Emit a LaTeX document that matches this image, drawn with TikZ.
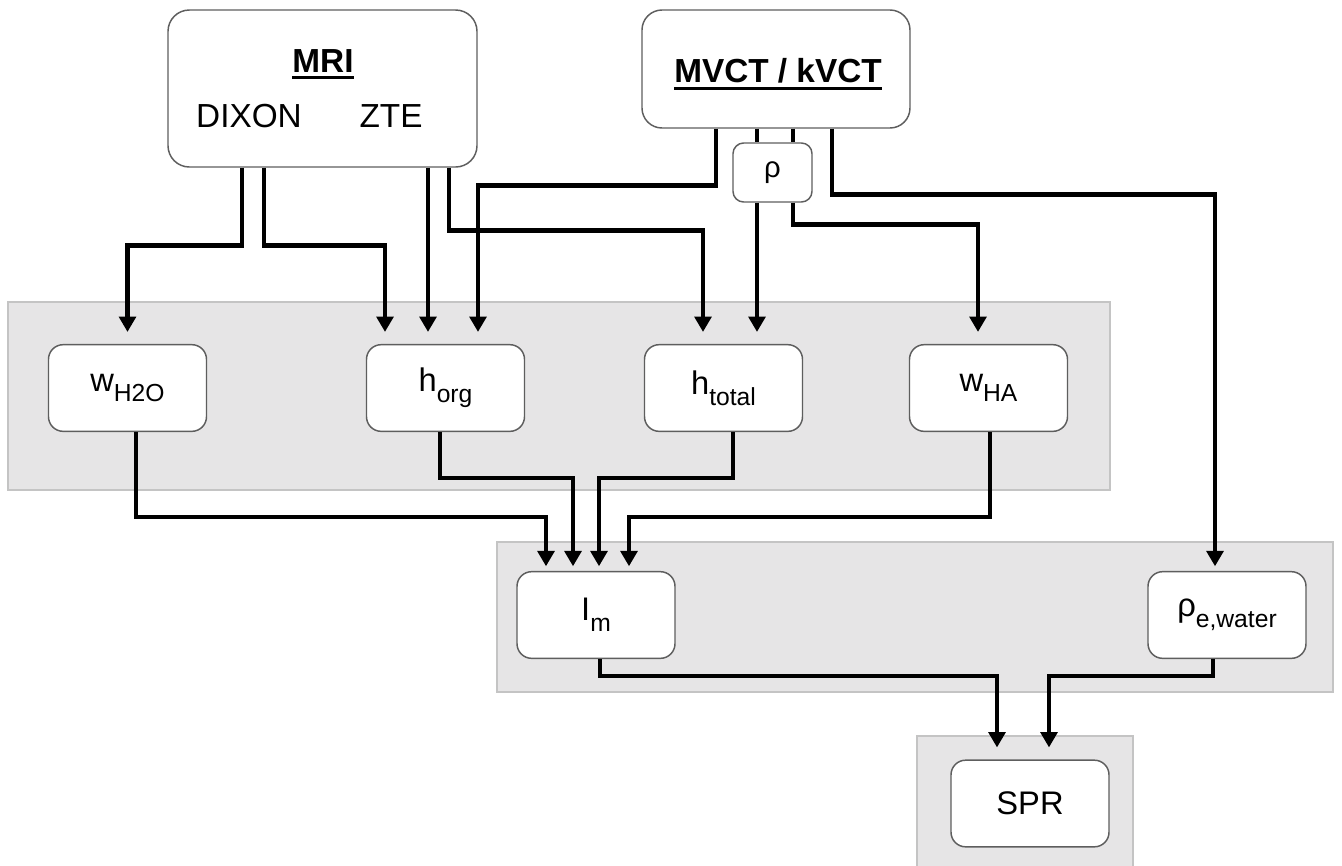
\documentclass[tikz,border=0pt]{standalone}
\usepackage{fontspec}
\setmainfont{Liberation Sans}
\usetikzlibrary{arrows.meta,calc}
\definecolor{boxgray}{HTML}{5E5E5E}
\definecolor{bandfill}{HTML}{E6E5E6}
\definecolor{bandline}{HTML}{C4C4C4}
\newcommand{\subtxt}[1]{\raisebox{-8pt}{\fontsize{18.5}{18.5}\selectfont #1}}
\newcommand{\ulbold}[1]{\setbox0=\hbox{\bfseries #1}\vtop{\copy0\kern3pt\hrule height 2.4pt width \wd0}}
\begin{document}
\begin{tikzpicture}[x=0.75pt,y=-0.75pt,
  box/.style={draw=boxgray, fill=white, line width=1.1pt, rounded corners=11pt,
    minimum width=118.5pt, minimum height=65pt, inner sep=0pt,
    font=\fontsize{24.5}{28}\selectfont},
  band/.style={fill=bandfill, draw=bandline, line width=1.2pt},
  conn/.style={line width=3.5pt},
  arr/.style={line width=3.5pt, -{Triangle[length=11.5pt,width=12.5pt]}, shorten >=9pt},
  arrs/.style={arr, shorten >=3.5pt},
  txt/.style={font=\fontsize{25}{28}\selectfont, inner sep=0pt, anchor=base}]

\fill[white] (0,0) rectangle (1342,865);
\useasboundingbox (0,0) rectangle (1342,865);

% group bands
\draw[band] (8,302) rectangle (1110,490);
\draw[band] (497,542) rectangle (1333,692);
\draw[band] (917,736) rectangle (1133,870);

% sources
\node[box, minimum width=231.75pt, minimum height=117.75pt, rounded corners=16pt] (mri) at (322.5,88.5) {};
\node[txt] (mrit) at (323,72) {\ulbold{MRI}};
\node[txt] (dixon) at (249,127) {DIXON};
\node[txt] (zte) at (391,127) {ZTE};

\node[box, minimum width=201pt, minimum height=88.5pt, rounded corners=15pt] (mvct) at (776,69) {};
\node[txt] (mvctt) at (778,82) {\ulbold{MVCT / kVCT}};

\node[box, minimum width=59.25pt, minimum height=44.25pt, rounded corners=8pt, font=\fontsize{22}{26}\selectfont] (rho) at (772.5,172.5) {ρ};

% intermediate quantities
\node[box] (wh2o) at (127.5,388) {w\subtxt{H2O}};
\node[box] (horg) at (445.5,388) {h\subtxt{org}};
\node[box] (htotal) at (723.5,388) {h\subtxt{total}};
\node[box] (wha) at (988.5,388) {w\subtxt{HA}};

\node[box] (im) at (596,615) {I\subtxt{m}};
\node[box] (rhoe) at (1227,615) {ρ\subtxt{e,water}};

\node[box] (spr) at (1030,803.5) {SPR};

% connectors from MRI
\draw[arr] ($(mri.south)+(-80.5,0)$) -- ++(0,78) -| (wh2o.north);
\draw[arr] ($(mri.south)+(-58.5,0)$) -- ++(0,78) -| ($(horg.north)+(-60.5,0)$);
\draw[arr] ($(mri.south)+(105.5,0)$) -- ($(horg.north)+(-17.5,0)$);
\draw[arr] ($(mri.south)+(126.5,0)$) -- ++(0,63) -| ($(htotal.north)+(-20.5,0)$);

% connectors from MVCT / kVCT
\draw[arr] ($(mvct.south)+(-60,0)$) -- ++(0,57) -| ($(horg.north)+(32.5,0)$);
\draw[conn] ($(mvct.south)+(-19,0)$) -- ($(rho.north)+(-15.5,0)$);
\draw[conn] ($(mvct.south)+(17,0)$) -- ($(rho.north)+(20.5,0)$);
\draw[arr] ($(rho.south)+(-15.5,0)$) -- ($(htotal.north)+(33.5,0)$);
\draw[arr] ($(rho.south)+(20.5,0)$) -- ++(0,22) -| ($(wha.north)+(-10.5,0)$);
\draw[arrs] ($(mvct.south)+(56,0)$) -- ++(0,66) -| ($(rhoe.north)+(-12,0)$);

% to I_m
\draw[arrs] ($(wh2o.south)+(8.5,0)$) -- ++(0,85) -| ($(im.north)+(-50,0)$);
\draw[arrs] ($(horg.south)+(-5.5,0)$) -- ++(0,46) -| ($(im.north)+(-23,0)$);
\draw[arrs] ($(htotal.south)+(9.5,0)$) -- ++(0,46) -| ($(im.north)+(3,0)$);
\draw[arrs] ($(wha.south)+(1.5,0)$) -- ++(0,85) -| ($(im.north)+(33,0)$);

% to SPR
\draw[arr] ($(im.south)+(4,0)$) -- ++(0,17) -| ($(spr.north)+(-33,0)$);
\draw[arr] ($(rhoe.south)+(-14,0)$) -- ++(0,17) -| ($(spr.north)+(19,0)$);

\end{tikzpicture}
\end{document}
